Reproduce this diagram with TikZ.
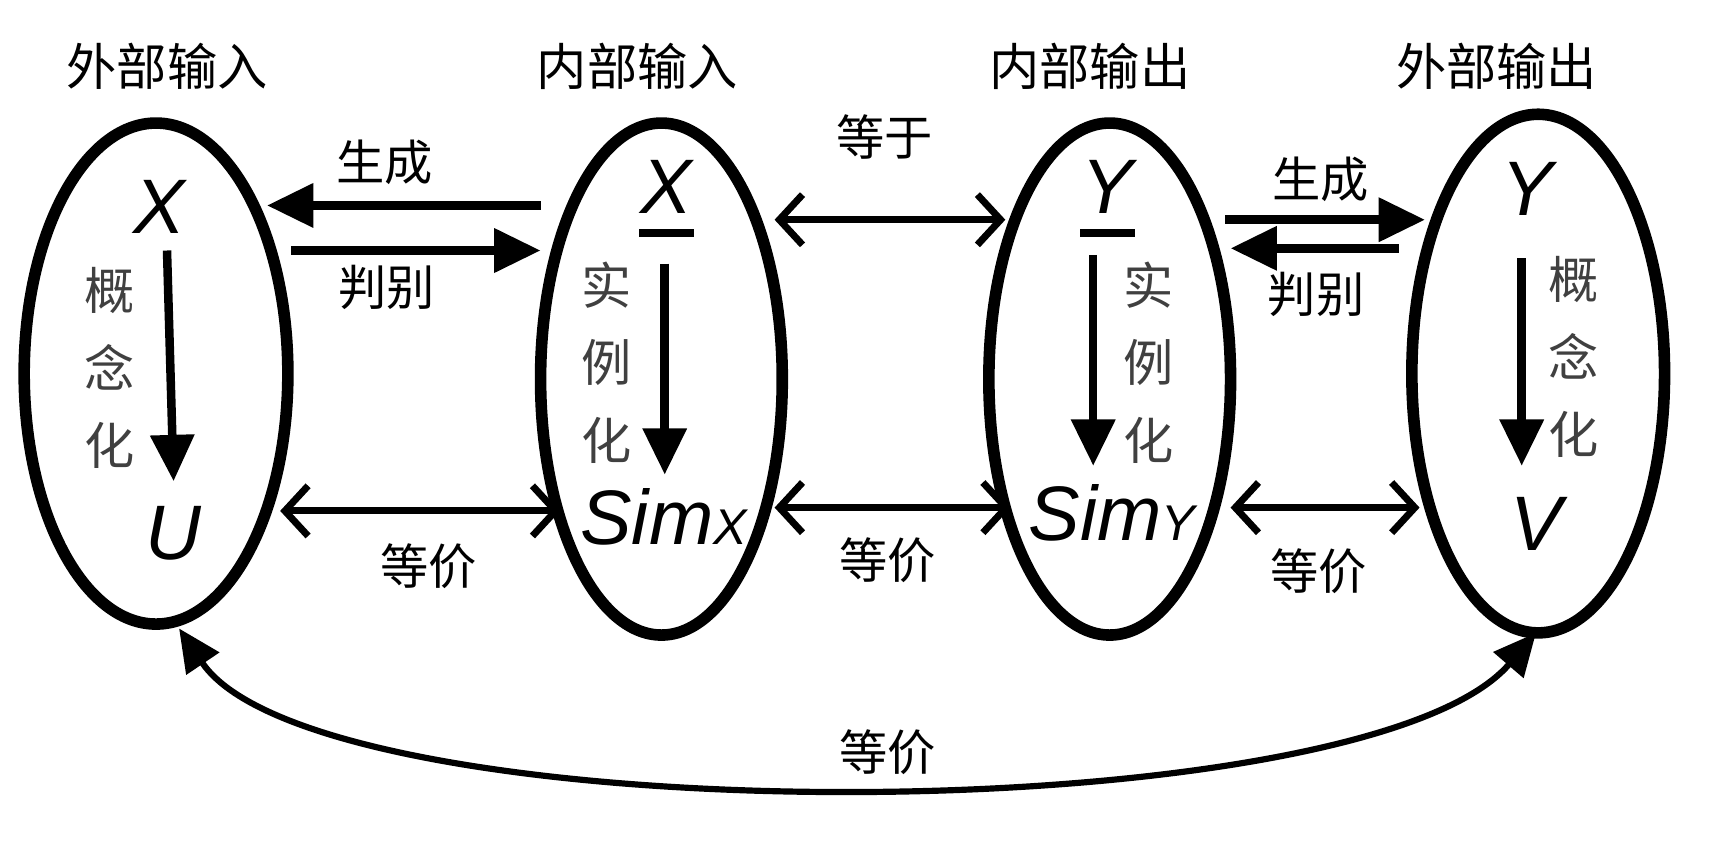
\documentclass[tikz,border=0pt]{standalone}
\usepackage{fontspec}
\setmainfont{Liberation Sans}
\newfontfamily\cjk{Noto Sans CJK SC}
\usetikzlibrary{arrows.meta,shapes.geometric}
\begin{document}
\begin{tikzpicture}[x=0.01cm,y=-0.01cm,
 ell/.style={draw,line width=3pt},
 title/.style={font=\cjk\fontsize{13}{14}\selectfont},
 lab/.style={font=\cjk\fontsize{12.5}{13}\selectfont},
 vlab/.style={font=\cjk\fontsize{13}{14}\selectfont,text=black!75,align=center,inner sep=0pt},
 var/.style={font=\itshape\fontsize{20}{20}\selectfont},
 thk/.style={line width=2.2pt,-{Triangle[length=12pt,width=11pt]}},
 dbl/.style={line width=1.8pt,{Straight Barb[length=6pt,width=13pt]}-{Straight Barb[length=6pt,width=13pt]}}]
\useasboundingbox (0,0) rectangle (1560,779);
\draw[ell] (142,340) ellipse [x radius=120,y radius=228];
\draw[ell] (602,345) ellipse [x radius=110,y radius=233];
\draw[ell] (1010,345) ellipse [x radius=110,y radius=233];
\draw[ell] (1400,340) ellipse [x radius=115,y radius=236];
\node[title] (t1) at (152,60) {外部输入};
\node[title] (t2) at (580,60) {内部输入};
\node[title] (t3) at (992,60) {内部输出};
\node[title] (t4) at (1362,60) {外部输出};
% variables
\node[var] (x1) at (145,188) {X};
\node[var] (u1) at (158,485) {U};
\node[var] (x2) at (606,170) {X};
\draw[line width=2pt] (582,212) -- (632,212);
\node[var] (s2) at (604,470) {Sim\fontsize{13}{13}\selectfont X};
\node[var] (y3) at (1008,170) {Y};
\draw[line width=2pt] (983,212) -- (1033,212);
\node[var] (s3) at (1012,467) {Sim\fontsize{13}{13}\selectfont Y};
\node[var] (y4) at (1390,172) {Y};
\node[var] (v4) at (1398,477) {V};
% vertical arrows
\draw[thk] (152,228) -- (158,438);
\draw[thk] (605,240) -- (605,432);
\draw[thk] (995,232) -- (995,424);
\draw[thk] (1385,235) -- (1385,424);
\node[vlab] at (100,335) {概\\[6pt]念\\[6pt]化};
\node[vlab] at (552,330) {实\\[6pt]例\\[6pt]化};
\node[vlab] at (1045,330) {实\\[6pt]例\\[6pt]化};
\node[vlab] at (1432,325) {概\\[6pt]念\\[6pt]化};
% horizontal
\draw[thk] (492,187) -- (243,187);
\node[lab] at (350,148) {生成};
\draw[thk] (265,228) -- (492,228);
\node[lab] at (352,262) {判别};
\draw[dbl] (705,200) -- (915,200);
\node[lab] at (805,125) {等于};
\draw[thk] (1115,200) -- (1297,200);
\node[lab] at (1202,163) {生成};
\draw[thk] (1273,226) -- (1120,226);
\node[lab] at (1198,268) {判别};
\draw[dbl] (255,465) -- (510,465);
\node[lab] at (390,515) {等价};
\draw[dbl] (705,462) -- (920,462);
\node[lab] at (808,510) {等价};
\draw[dbl] (1120,462) -- (1292,462);
\node[lab] at (1200,520) {等价};
\draw[line width=1.6pt,{Triangle[length=11pt,width=10pt]}-{Triangle[length=11pt,width=10pt]}] (163,572) .. controls (290,760) and (1240,760) .. (1398,576);
\node[lab] at (808,685) {等价};
\end{tikzpicture}
\end{document}
